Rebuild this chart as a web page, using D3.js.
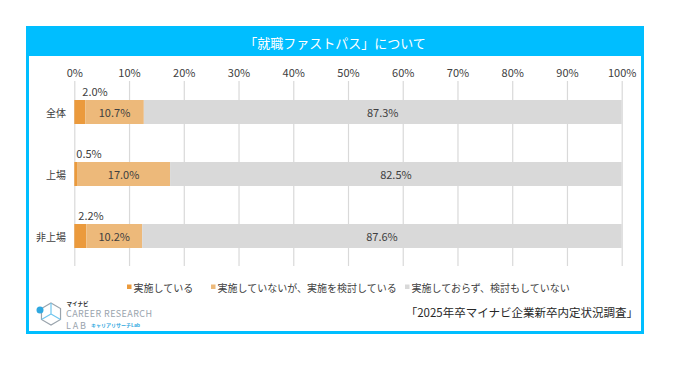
<!DOCTYPE html>
<html><head><meta charset="utf-8">
<script src="https://cdn.jsdelivr.net/npm/d3@7"></script>
<style>body{margin:0;background:#fff}svg{display:block}text{font-family:"Noto Sans CJK JP","Noto Sans",sans-serif}</style>
</head><body>
<script>
const categories = ["全体", "上場", "非上場"];
const seriesNames = ["実施している", "実施していないが、実施を検討している", "実施しておらず、検討もしていない"];
const implemented = [2.0, 0.5, 2.2];
const considering = [10.7, 17.0, 10.2];
const notImplemented = [87.3, 82.5, 87.6];
const tickValues = [0,10,20,30,40,50,60,70,80,90,100];
const titleText = "「就職ファストパス」について";
const sourceText = "「2025年卒マイナビ企業新卒内定状況調査」";
const colors = ["#EB9A3C", "#EDB97A", "#D9D9D9"];

const W = 688, H = 367;
const svg = d3.select("body").append("svg").attr("width", W).attr("height", H);

// frame
const blue = "#00BEFF";
svg.append("rect").attr("x", 27.5).attr("y", 27.5).attr("width", 615).attr("height", 305)
  .attr("fill", "#fff").attr("stroke", blue).attr("stroke-width", 3);
svg.append("rect").attr("x", 26).attr("y", 26).attr("width", 618).attr("height", 30).attr("fill", blue);
svg.append("text").attr("x", 335).attr("y", 42).attr("text-anchor", "middle").attr("dominant-baseline", "central")
  .attr("fill", "#fff").attr("font-size", 13).text(titleText);

const x = d3.scaleLinear().domain([0, 100]).range([74.3, 621.7]);
const y = d3.scaleBand().domain(categories).range([81, 267]).paddingInner(0.6).paddingOuter(0.3);

// grid
const axis = d3.axisTop(x).tickValues(tickValues).tickFormat(d => d + "%").tickSize(-(266 - 81)).tickPadding(4);
const g = svg.append("g").attr("transform", "translate(0,81)").call(axis);
g.select(".domain").remove();
g.selectAll(".tick line").attr("stroke", "#D9D9D9").attr("stroke-width", 1.2);
g.selectAll(".tick text").attr("font-size", 11).attr("fill", "#404040")
  .attr("y", -9.3).attr("dominant-baseline", "central").attr("dy", null);

// bars
const data = categories.map((c, i) => {
  const vals = [implemented[i], considering[i], notImplemented[i]];
  let acc = 0;
  return vals.map((v, k) => { const s = {cat: c, k, v, x0: acc, x1: acc + v}; acc += v; return s; });
});
const bh = 24;
data.forEach(row => {
  row.forEach(s => {
    const cy = y(s.cat) + y.bandwidth() / 2;
    svg.append("rect").attr("x", x(s.x0)).attr("y", cy - bh / 2)
      .attr("width", x(s.x1) - x(s.x0)).attr("height", bh).attr("fill", colors[s.k]);
    if (s.k === 0) {
      svg.append("text").attr("x", x(s.x0) + 2 + (s.v > 1 ? 6 : 0) - (s.v > 2.1 ? 4 : 0)).attr("y", cy - bh / 2 - 4)
        .attr("font-size", 11).attr("fill", "#404040").text(s.v.toFixed(1) + "%");
    } else {
      svg.append("text").attr("x", (x(s.x0) + x(s.x1)) / 2).attr("y", cy).attr("text-anchor", "middle")
        .attr("dominant-baseline", "central").attr("font-size", 11).attr("fill", "#404040").text(s.v.toFixed(1) + "%");
    }
  });
  const cy = y(row[0].cat) + y.bandwidth() / 2;
  svg.append("text").attr("x", 66).attr("y", cy).attr("text-anchor", "end").attr("dominant-baseline", "central")
    .attr("font-size", 10).attr("fill", "#404040").text(row[0].cat);
});

// legend
const legX = [127, 211, 405];
seriesNames.forEach((n, i) => {
  svg.append("rect").attr("x", legX[i]).attr("y", 284.5).attr("width", 4.5).attr("height", 4.5).attr("fill", colors[i]);
  svg.append("text").attr("x", legX[i] + 6.5).attr("y", 287).attr("dominant-baseline", "central")
    .attr("font-size", 10).attr("fill", "#404040").text(n);
});

// source
svg.append("text").attr("x", 638).attr("y", 312).attr("text-anchor", "end").attr("dominant-baseline", "central")
  .attr("font-size", 11.5).attr("fill", "#262626").text(sourceText);

// logo
const lg = svg.append("g");
const hx = 51, hy = 314, r = 11;
const hex = d3.range(6).map(i => { const a = Math.PI / 3 * i - Math.PI / 2; return [hx + r * Math.cos(a), hy + r * Math.sin(a)]; });
lg.append("path").attr("d", "M" + hex.map(p => p.join(",")).join("L") + "Z").attr("fill", "none").attr("stroke", "#9aa4ad").attr("stroke-width", 1.2);
lg.append("path").attr("d", `M${hx},${hy}L${hex[0][0]},${hex[0][1]}M${hx},${hy}L${hex[2][0]},${hex[2][1]}M${hx},${hy}L${hex[4][0]},${hex[4][1]}`)
  .attr("fill", "none").attr("stroke", "#6fc6ef").attr("stroke-width", 1.2);
lg.append("circle").attr("cx", 40).attr("cy", 310).attr("r", 3.5).attr("fill", "#2fa8e0");
lg.append("text").attr("x", 66.5).attr("y", 304).attr("dominant-baseline", "central").attr("font-size", 5.5).attr("font-weight", "bold").attr("fill", "#333").text("マイナビ");
lg.append("text").attr("x", 66).attr("y", 313).attr("dominant-baseline", "central").attr("font-size", 9).attr("fill", "#9aa4ad")
  .attr("font-family", "Lato, 'Liberation Sans', sans-serif").attr("textLength", 86).text("CAREER RESEARCH");
lg.append("text").attr("x", 66).attr("y", 325).attr("dominant-baseline", "central").attr("font-size", 9).attr("fill", "#9aa4ad")
  .attr("font-family", "Lato, 'Liberation Sans', sans-serif").attr("textLength", 20).text("LAB");
lg.append("text").attr("x", 91).attr("y", 324.5).attr("dominant-baseline", "central").attr("font-size", 5).attr("font-weight", "bold").attr("fill", "#2fa8e0").text("キャリアリサーチLab");
</script>
</body></html>
